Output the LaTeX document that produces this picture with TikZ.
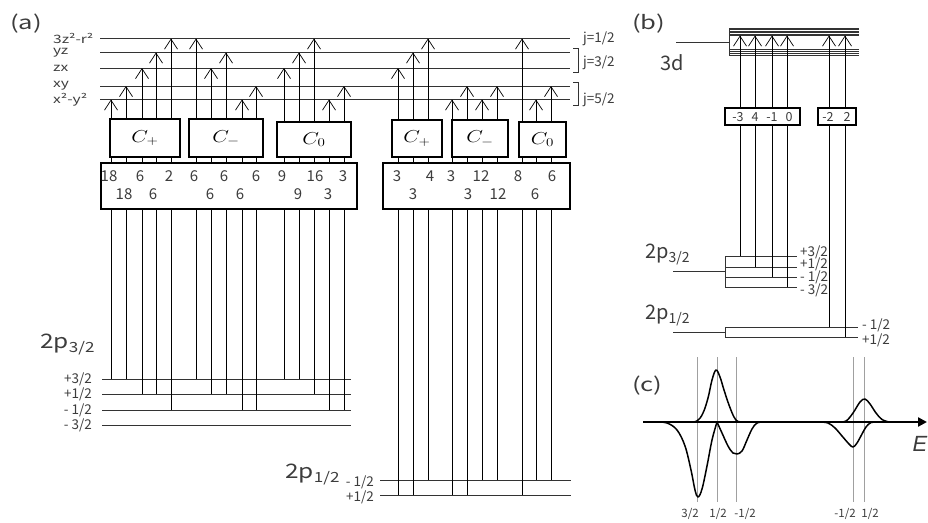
\documentclass[tikz,border=0pt]{standalone}
\usepackage{fontspec}
\usepackage{graphicx}
\setmainfont{Noto Sans CJK JP}
\newfontfamily\widefont{Noto Sans CJK JP}[FakeStretch=1.35]
\newfontfamily\midfont{Noto Sans CJK JP}[FakeStretch=1.22]
\newfontfamily\efont{Liberation Sans}
\usetikzlibrary{arrows.meta,positioning}
\definecolor{lvgray}{HTML}{333333}
\definecolor{guidegray}{HTML}{A0A0A0}
\definecolor{txtgray}{HTML}{3C3C3C}
\newcommand{\lvsub}[1]{{\fontsize{14}{14}\selectfont\raisebox{-4.5pt}{#1}}}
\newcommand{\cop}[1]{\scalebox{1.25}[1]{$C_{#1}$}}

\begin{document}
\begin{tikzpicture}[x=1pt,y=-1pt,
  lev/.style={lvgray,line width=0.8pt},
  thinlev/.style={lvgray,line width=0.5pt},
  trans/.style={black,line width=0.7pt},
  uparr/.style={trans,-{Straight Barb[length=10pt,width=13pt]}},
  cbox/.style={draw,line width=1.6pt,fill=white,inner sep=0pt,font=\fontsize{18.5}{18.5}\selectfont},
  nbox/.style={draw,line width=1.6pt,fill=white,inner sep=0pt},
  num/.style={inner sep=0pt,font=\fontsize{15}{15}\selectfont,text=txtgray},
  bnum/.style={inner sep=0pt,font=\fontsize{12.5}{12.5}\selectfont,text=txtgray},
  orb/.style={anchor=west,inner sep=0pt,font=\widefont\fontsize{11.5}{11.5}\selectfont,text=txtgray},
  mlab/.style={anchor=east,inner sep=0pt,font=\fontsize{13.5}{13.5}\selectfont,text=txtgray},
  rlab/.style={anchor=west,inner sep=0pt,font=\fontsize{13.5}{13.5}\selectfont,text=txtgray},
  jlab/.style={anchor=west,inner sep=0pt,font=\fontsize{13.5}{13.5}\selectfont,text=txtgray},
  bigw/.style={anchor=base west,inner sep=0pt,font=\midfont\fontsize{20}{20}\selectfont,text=txtgray},
  bign/.style={anchor=base west,inner sep=0pt,font=\fontsize{20}{20}\selectfont,text=txtgray},
  panel/.style={anchor=base west,inner sep=0pt,font=\widefont\fontsize{19}{19}\selectfont,text=txtgray},
  tick/.style={inner sep=0pt,font=\fontsize{11.5}{11.5}\selectfont,text=txtgray},
  guide/.style={guidegray,line width=0.8pt},
  specline/.style={black,line width=1.5pt,line join=round},
  axis/.style={black,line width=2.4pt,-{Triangle[length=9pt,width=9pt]}}]
  \useasboundingbox (0,0) rectangle (928,522);

  % ---------- (a)
  \node[panel] (pa) at (10,29) {(a)};
  \coordinate (z2) at (100,38.5); \coordinate (yz) at (100,52.5);
  \coordinate (zx) at (100,68);   \coordinate (xy) at (100,86);
  \coordinate (x2) at (100,99.5);
  \foreach \c in {z2,yz,zx,xy,x2} \draw[lev] (\c) -- ++(470,0);
  \node[orb] (lz2) at (53,38.5) {3z²-r²};
  \node[orb] (lyz) at (53,52.5) {yz};
  \node[orb] (lzx) at (53,68) {zx};
  \node[orb] (lxy) at (53,86) {xy};
  \node[orb] (lx2) at (53,99.5) {x²-y²};
  \node[jlab] (j1) at (583,38.5) {j=1/2};
  \draw[lev] (573,48) -- (578,48) -- (578,72) -- (573,72);
  \node[jlab] (j3) at (583,63) {j=3/2};
  \draw[lev] (573,82) -- (578,82) -- (578,105) -- (573,105);
  \node[jlab] (j5) at (583,100) {j=5/2};

  \coordinate (a3p) at (102,379); \coordinate (a1p) at (102,394);
  \coordinate (a1m) at (102,410); \coordinate (a3m) at (102,425);
  \foreach \c in {a3p,a1p,a1m,a3m} \draw[lev] (\c) -- ++(249,0);
  \node[mlab] (la3p) at (92,379) {+3/2};
  \node[mlab] (la1p) at (92,394) {+1/2};
  \node[mlab] (la1m) at (92,410) {- 1/2};
  \node[mlab] (la3m) at (92,425) {- 3/2};
  \node[bigw] (pA) at (40,348) {2p\lvsub{3/2}};

  \coordinate (h1m) at (380,480); \coordinate (h1p) at (380,495);
  \foreach \c in {h1m,h1p} \draw[lev] (\c) -- ++(191,0);
  \node[mlab] (lh1m) at (374,482) {- 1/2};
  \node[mlab] (lh1p) at (374,497) {+1/2};
  \node[bigw] (hA) at (285,478) {2p\lvsub{1/2}};

  % transitions, left group
  \draw[uparr] (111,0 |- a3p) -- (111,0 |- x2); \draw[uparr] (126,0 |- a3p) -- (126,0 |- xy);
  \draw[uparr] (142,0 |- a1p) -- (142,0 |- zx); \draw[uparr] (156,0 |- a1p) -- (156,0 |- yz);
  \draw[uparr] (171,0 |- a1m) -- (171,0 |- z2);
  \draw[uparr] (196,0 |- a3p) -- (196,0 |- z2); \draw[uparr] (211,0 |- a1p) -- (211,0 |- zx);
  \draw[uparr] (226,0 |- a1p) -- (226,0 |- yz); \draw[uparr] (242,0 |- a1m) -- (242,0 |- x2);
  \draw[uparr] (256,0 |- a1m) -- (256,0 |- xy);
  \draw[uparr] (284,0 |- a3p) -- (284,0 |- zx); \draw[uparr] (299,0 |- a3p) -- (299,0 |- yz);
  \draw[uparr] (314,0 |- a1p) -- (314,0 |- z2); \draw[uparr] (329,0 |- a1m) -- (329,0 |- x2);
  \draw[uparr] (344,0 |- a1m) -- (344,0 |- xy);
  % transitions, right group
  \draw[uparr] (398,0 |- h1p) -- (398,0 |- zx); \draw[uparr] (413,0 |- h1p) -- (413,0 |- yz);
  \draw[uparr] (428,0 |- h1m) -- (428,0 |- z2);
  \draw[uparr] (452,0 |- h1p) -- (452,0 |- x2); \draw[uparr] (467,0 |- h1p) -- (467,0 |- xy);
  \draw[uparr] (482,0 |- h1m) -- (482,0 |- x2); \draw[uparr] (497,0 |- h1m) -- (497,0 |- xy);
  \draw[uparr] (522,0 |- h1p) -- (522,0 |- z2); \draw[uparr] (536,0 |- h1m) -- (536,0 |- x2);
  \draw[uparr] (551,0 |- h1m) -- (551,0 |- xy);

  \node[cbox,minimum width=70,minimum height=38] (cpA) at (145,138) {\cop{+}};
  \node[cbox,minimum width=74,minimum height=38] (cmA) at (226,138) {\cop{-}};
  \node[cbox,minimum width=74,minimum height=35] (czA) at (314,139.5) {\cop{0}};
  \node[cbox,minimum width=50,minimum height=37] (cpB) at (417,138.5) {\cop{+}};
  \node[cbox,minimum width=56,minimum height=37] (cmB) at (480,138.5) {\cop{-}};
  \node[cbox,minimum width=47,minimum height=35] (czB) at (542.5,139.5) {\cop{0}};
  \node[nbox,minimum width=256,minimum height=46] (numA) at (229,186) {};
  \node[nbox,minimum width=187,minimum height=46] (numB) at (476.5,186) {};

  \node[num] (nA1) at (109,176) {18}; \node[num] (nA2) at (124,194) {18};
  \node[num] (nA3) at (140,176) {6};  \node[num] (nA4) at (153,194) {6};
  \node[num] (nA5) at (169,176) {2};
  \node[num] (nA6) at (194,176) {6};  \node[num] (nA7) at (210,194) {6};
  \node[num] (nA8) at (224,176) {6};  \node[num] (nA9) at (240,194) {6};
  \node[num] (nA10) at (256,176) {6};
  \node[num] (nA11) at (282,176) {9}; \node[num] (nA12) at (298,194) {9};
  \node[num] (nA13) at (315,176) {16}; \node[num] (nA14) at (328,194) {3};
  \node[num] (nA15) at (343,176) {3};
  \node[num] (nB1) at (397,176) {3}; \node[num] (nB2) at (413,194) {3};
  \node[num] (nB3) at (430,176) {4};
  \node[num] (nB4) at (451,176) {3}; \node[num] (nB5) at (468,194) {3};
  \node[num] (nB6) at (481,176) {12}; \node[num] (nB7) at (498,194) {12};
  \node[num] (nB8) at (518,176) {8}; \node[num] (nB9) at (535,194) {6};
  \node[num] (nB10) at (552,176) {6};

  % ---------- (b)
  \node[panel] (pb) at (632,29) {(b)};
  \coordinate (b3d) at (676,42); \coordinate (bd) at (729,35.5);
  \draw[lev] (b3d) -- (729,42);
  \draw[lev] (729,28) -- (729,55);
  \foreach \y in {28,29.5,...,35.5} \draw[thinlev] (729,\y) -- (859,\y);
  \foreach \y in {49,51,53,55} \draw[thinlev] (729,\y) -- (859,\y);
  \node[bign] (d3) at (660,70) {3d};

  \coordinate (b3p) at (725,256); \coordinate (b1p) at (725,267);
  \coordinate (b1m) at (725,277); \coordinate (b3m) at (725,287);
  \foreach \c in {b3p,b1p,b1m,b3m} \draw[lev] (\c) -- ++(72,0);
  \draw[lev] (b3p) -- (b3m);
  \draw[lev] (673,271) -- (725,271);
  \node[rlab] (lb3p) at (800,252) {+3/2};
  \node[rlab] (lb1p) at (800,264) {+1/2};
  \node[rlab] (lb1m) at (800,277) {- 1/2};
  \node[rlab] (lb3m) at (800,290) {- 3/2};
  \node[bign] (pB) at (645,258) {2p\lvsub{3/2}};

  \coordinate (g1m) at (725,327); \coordinate (g1p) at (725,337);
  \foreach \c in {g1m,g1p} \draw[lev] (\c) -- ++(133,0);
  \draw[lev] (g1m) -- (g1p);
  \draw[lev] (673,332) -- (725,332);
  \node[rlab] (lg1m) at (862,325) {- 1/2};
  \node[rlab] (lg1p) at (862,340) {+1/2};
  \node[bign] (hB) at (645,319) {2p\lvsub{1/2}};

  \draw[uparr] (740,0 |- b3p) -- (740,0 |- bd); \draw[uparr] (755,0 |- b1p) -- (755,0 |- bd);
  \draw[uparr] (772,0 |- b1m) -- (772,0 |- bd); \draw[uparr] (787,0 |- b3m) -- (787,0 |- bd);
  \draw[uparr] (829,0 |- g1m) -- (829,0 |- bd); \draw[uparr] (845,0 |- g1p) -- (845,0 |- bd);

  \node[nbox,line width=1.3pt,minimum width=75,minimum height=17] (mb1) at (762.5,116.5) {};
  \node[nbox,line width=1.3pt,minimum width=38,minimum height=17] (mb2) at (837,116.5) {};
  \node[bnum] (m1) at (738,117) {-3}; \node[bnum] (m2) at (755,117) {4};
  \node[bnum] (m3) at (772,117) {-1}; \node[bnum] (m4) at (789,117) {0};
  \node[bnum] (m5) at (828,117) {-2}; \node[bnum] (m6) at (847,117) {2};

  % ---------- (c)
  \node[panel] (pc) at (632,391) {(c)};
  \foreach \x in {697,717,736,853,864} \draw[guide] (\x,357) -- (\x,502);
  \coordinate (e0) at (643,422); \coordinate (e1) at (927,422);
  \draw[axis] (e0) -- (e1);
  \node[inner sep=0pt,font=\efont\itshape\fontsize{22}{22}\selectfont,text=txtgray] (eE) at (920,444) {E};
  \draw[specline] plot[smooth,tension=0.6] coordinates {(688,422) (697,421) (703,413) (708,398)
    (712,380) (716,370) (720,377) (724,390) (729,405) (734,417) (738,421.5) (744,422)};
  \draw[specline] plot[smooth,tension=0.6] coordinates {(656,422) (667,423) (677,430) (685,446)
    (691,470) (695,490) (698,497) (702,489) (707,466) (712,440) (717,422)};
  \draw[specline] plot[smooth,tension=0.6] coordinates {(717,422) (722,433) (728,446) (733,453)
    (737,454) (742,451) (747,440) (752,429) (757,423) (764,422)};
  \draw[specline] plot[smooth,tension=0.6] coordinates {(838,422) (846,421) (853,413) (860,402)
    (865,399) (870,404) (876,413) (882,419.5) (889,422)};
  \draw[specline] plot[smooth,tension=0.6] coordinates {(820,422) (828,423) (835,428) (842,436)
    (849,444) (853,447) (857,443) (862,434) (866,427) (871,422.5) (877,422)};
  \node[tick] (t1) at (690,514) {3/2};
  \node[tick] (t2) at (718,514) {1/2};
  \node[tick] (t3) at (745,514) {-1/2};
  \node[tick] (t4) at (845,514) {-1/2};
  \node[tick] (t5) at (870,514) {1/2};
\end{tikzpicture}
\end{document}
